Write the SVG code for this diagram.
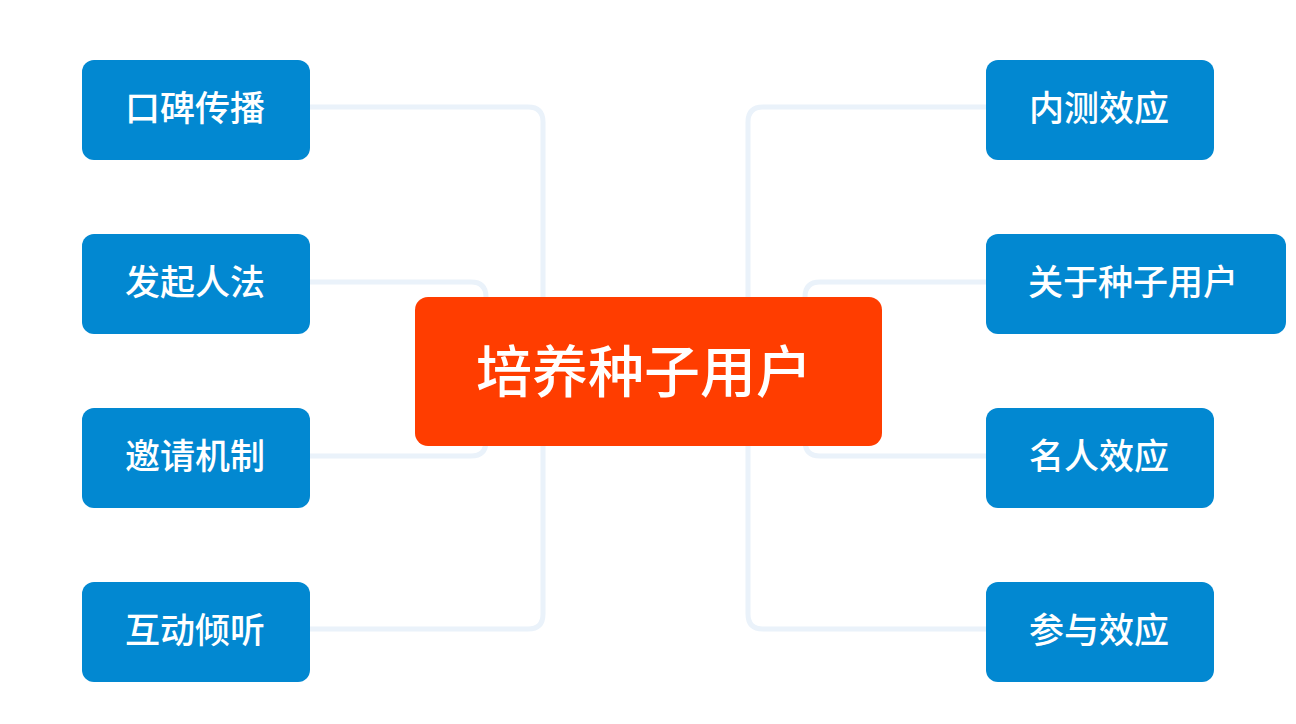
<svg xmlns="http://www.w3.org/2000/svg" width="1296" height="724" viewBox="0 0 1296 724">
<style>
.c{fill:none;stroke:#EAF2FA;stroke-width:5;stroke-linejoin:round}
.b{fill:#0288D1}
.t{fill:#FFFFFF;font-family:"Noto Sans CJK SC","Noto Sans",sans-serif;font-weight:500;font-size:35px;text-anchor:middle;dominant-baseline:central}
.m{fill:#FF3D00}
.mt{fill:#FFFFFF;font-family:"Noto Sans CJK SC","Noto Sans",sans-serif;font-weight:500;font-size:56px;text-anchor:middle;dominant-baseline:central}
</style>
<rect width="1296" height="724" fill="#FFFFFF"/>
<g id="connectors">
<path class="c" d="M310,107 H528 Q543,107 543,122 V614 Q543,629 528,629 H310"/>
<path class="c" d="M310,282 H471 Q486,282 486,297 V441 Q486,456 471,456 H310"/>
<path class="c" d="M986,107 H763 Q748,107 748,122 V614 Q748,629 763,629 H986"/>
<path class="c" d="M986,282 H820 Q805,282 805,297 V441 Q805,456 820,456 H986"/>
</g>
<g id="center"><rect class="m" x="415" y="297" width="467" height="149" rx="13"/><text class="mt" x="644" y="367">培养种子用户</text></g>
<g id="n1"><rect class="b" x="82" y="60" width="228" height="100" rx="12"/><text class="t" x="195" y="105">口碑传播</text></g>
<g id="n2"><rect class="b" x="82" y="234" width="228" height="100" rx="12"/><text class="t" x="195" y="279">发起人法</text></g>
<g id="n3"><rect class="b" x="82" y="408" width="228" height="100" rx="12"/><text class="t" x="195" y="453">邀请机制</text></g>
<g id="n4"><rect class="b" x="82" y="582" width="228" height="100" rx="12"/><text class="t" x="195" y="627">互动倾听</text></g>
<g id="n5"><rect class="b" x="986" y="60" width="228" height="100" rx="12"/><text class="t" x="1099" y="105">内测效应</text></g>
<g id="n6"><rect class="b" x="986" y="234" width="300" height="100" rx="12"/><text class="t" x="1133" y="279">关于种子用户</text></g>
<g id="n7"><rect class="b" x="986" y="408" width="228" height="100" rx="12"/><text class="t" x="1099" y="453">名人效应</text></g>
<g id="n8"><rect class="b" x="986" y="582" width="228" height="100" rx="12"/><text class="t" x="1099" y="627">参与效应</text></g>
</svg>
